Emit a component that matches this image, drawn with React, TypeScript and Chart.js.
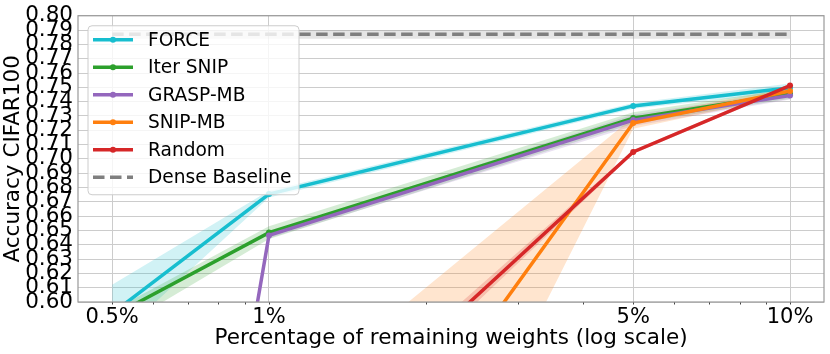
import React, { useEffect, useRef } from "react";
import { Chart, registerables } from "chart.js";

Chart.register(...registerables);

// ---------------- data ----------------
const xValues = [0.5, 1, 5, 10];
const xTickValues = [0.5, 1, 5, 10];
const xTickLabels = ["0.5%", "1%", "5%", "10%"];
const xMinorTicks = [0.6, 0.7, 0.8, 0.9, 2, 3, 4, 6, 7, 8, 9];
const yTickValues = [
  0.6, 0.61, 0.62, 0.63, 0.64, 0.65, 0.66, 0.67, 0.68, 0.69, 0.7,
  0.71, 0.72, 0.73, 0.74, 0.75, 0.76, 0.77, 0.78, 0.79, 0.8,
];
const yTickLabels = [
  "0.60", "0.61", "0.62", "0.63", "0.64", "0.65", "0.66", "0.67", "0.68", "0.69", "0.70",
  "0.71", "0.72", "0.73", "0.74", "0.75", "0.76", "0.77", "0.78", "0.79", "0.80",
];

const seriesNames = ["FORCE", "Iter SNIP", "GRASP-MB", "SNIP-MB", "Random", "Dense Baseline"];

const forceMean = [0.592, 0.6754, 0.737, 0.7497];
const forceUpper = [0.612, 0.6778, 0.739, 0.7527];
const forceLower = [0.572, 0.673, 0.735, 0.7467];

const iterSnipMean = [0.59, 0.6485, 0.7285, 0.7455];
const iterSnipUpper = [0.594, 0.653, 0.7325, 0.749];
const iterSnipLower = [0.579, 0.644, 0.7245, 0.742];

const graspMean = [0.01, 0.6465, 0.7271, 0.7443];
const graspUpper = [0.015, 0.6485, 0.731, 0.747];
const graspLower = [0.005, 0.6445, 0.723, 0.7415];

const snipMean = [null, 0.372, 0.725, 0.7474];
const snipUpper = [null, 0.52, 0.729, 0.7495];
const snipLower = [null, 0.215, 0.721, 0.7445];

const randomMean = [null, 0.471, 0.7048, 0.7512];
const randomUpper = [null, 0.481, 0.706, 0.7525];
const randomLower = [null, 0.462, 0.7035, 0.7498];

const denseMean = [0.787, 0.787, 0.787, 0.787];
const denseUpper = [0.79, 0.79, 0.79, 0.79];
const denseLower = [0.784, 0.784, 0.784, 0.784];

const colors = ["#17becf", "#2ca02c", "#9467bd", "#ff7f0e", "#d62728", "#7f7f7f"];
const bandColors = [
  "rgba(23,190,207,0.2)",
  "rgba(44,160,44,0.2)",
  "rgba(148,103,189,0.2)",
  "rgba(255,127,14,0.2)",
  "rgba(214,39,40,0.2)",
  "rgba(127,127,127,0.2)",
];

const means = [forceMean, iterSnipMean, graspMean, snipMean, randomMean, denseMean];
const uppers = [forceUpper, iterSnipUpper, graspUpper, snipUpper, randomUpper, denseUpper];
const lowers = [forceLower, iterSnipLower, graspLower, snipLower, randomLower, denseLower];

const FONT = '"DejaVu Sans", "Liberation Sans", sans-serif';

function toPoints(vals: (number | null)[]) {
  return xValues.map((x, i) => ({ x, y: vals[i] }));
}

function buildDatasets() {
  const ds: any[] = [];
  let seq = 0;
  // bands first (bottom)
  for (let s = 0; s < seriesNames.length; s++) {
    ds.push({
      type: "line",
      label: seriesNames[s] + " upper",
      data: toPoints(uppers[s]),
      borderWidth: 0,
      borderColor: "rgba(0,0,0,0)",
      backgroundColor: bandColors[s],
      pointRadius: 0,
      fill: "+1",
      clip: 0,
      order: 1000 - seq++,
    });
    ds.push({
      type: "line",
      label: seriesNames[s] + " lower",
      data: toPoints(lowers[s]),
      borderWidth: 0,
      borderColor: "rgba(0,0,0,0)",
      pointRadius: 0,
      fill: false,
      clip: 0,
      order: 1000 - seq++,
    });
  }
  // lines
  for (let s = 0; s < seriesNames.length; s++) {
    const dense = s === 5;
    ds.push({
      type: "line",
      label: seriesNames[s],
      data: toPoints(means[s]),
      borderColor: colors[s],
      backgroundColor: colors[s],
      borderWidth: 3.5,
      borderDash: dense ? [11.5, 5.5] : [],
      pointRadius: dense ? 0 : 3,
      pointBorderWidth: 0,
      pointBackgroundColor: colors[s],
      fill: false,
      clip: 0,
      order: 1000 - seq++,
    });
  }
  return ds;
}

const framePlugin = {
  id: "frame",
  afterDatasetsDraw(chart: any) {
    const { ctx, chartArea } = chart;
    const { left, top, right, bottom } = chartArea;
    const x = chart.scales.x;
    ctx.save();
    ctx.strokeStyle = "#444";
    ctx.lineWidth = 1;
    ctx.beginPath();
    [...xMinorTicks, ...xTickValues].forEach((v) => {
      const px = Math.round(x.getPixelForValue(v)) + 0.5;
      ctx.moveTo(px, bottom);
      ctx.lineTo(px, bottom + 2.5);
    });
    ctx.stroke();
    ctx.strokeStyle = "#999";
    ctx.lineWidth = 1.2;
    ctx.strokeRect(left, top, right - left, bottom - top);
    ctx.restore();
  },
};

const legendPlugin = {
  id: "customLegend",
  afterDraw(chart: any) {
    const { ctx, chartArea } = chart;
    const bx = chartArea.left + 10;
    const by = chartArea.top + 10;
    const bw = 211;
    const bh = 169;
    ctx.save();
    ctx.beginPath();
    ctx.roundRect(bx, by, bw, bh, 4);
    ctx.fillStyle = "rgba(255,255,255,0.8)";
    ctx.fill();
    ctx.strokeStyle = "#cccccc";
    ctx.lineWidth = 1;
    ctx.stroke();
    ctx.font = `18.6px ${FONT}`;
    ctx.textBaseline = "middle";
    ctx.textAlign = "left";
    seriesNames.forEach((name, i) => {
      const cy = by + 14 + i * 27.5;
      const x0 = bx + 5;
      const x1 = bx + 45;
      ctx.beginPath();
      ctx.strokeStyle = colors[i];
      ctx.lineWidth = 3.5;
      ctx.setLineDash(i === 5 ? [11.5, 5.5] : []);
      ctx.moveTo(x0, cy);
      ctx.lineTo(x1, cy);
      ctx.stroke();
      ctx.setLineDash([]);
      if (i !== 5) {
        ctx.beginPath();
        ctx.fillStyle = colors[i];
        ctx.arc((x0 + x1) / 2, cy, 3, 0, Math.PI * 2);
        ctx.fill();
      }
      ctx.fillStyle = "#000";
      ctx.fillText(name, bx + 60, cy + 1);
    });
    ctx.restore();
  },
};

export default function App() {
  const ref = useRef<HTMLCanvasElement>(null);
  useEffect(() => {
    document.body.style.margin = "0";
    const chart = new Chart(ref.current as HTMLCanvasElement, {
      type: "line",
      data: { datasets: buildDatasets() },
      options: {
        animation: false,
        responsive: false,
        devicePixelRatio: 1,
        layout: { padding: { top: 12, right: 6, left: 0, bottom: 0 } },
        plugins: { legend: { display: false }, tooltip: { enabled: false } },
        scales: {
          x: {
            type: "logarithmic",
            min: 0.43,
            max: 11.62,
            afterBuildTicks: (scale: any) => {
              scale.ticks = xTickValues.map((v) => ({ value: v, major: true }));
            },
            afterFit: (scale: any) => {
              scale.height = 52;
            },
            ticks: {
              autoSkip: false,
              maxRotation: 0,
              padding: 3,
              color: "#000",
              font: { family: FONT, size: 21 },
              callback: (_v: any, i: number) => xTickLabels[i],
            },
            grid: { color: "#cccccc", lineWidth: 1, drawTicks: false },
            border: { display: false },
            title: {
              display: true,
              text: "Percentage of remaining weights (log scale)",
              color: "#000",
              font: { family: FONT, size: 21.5 },
              padding: { top: 4, bottom: 3 },
            },
          },
          y: {
            type: "linear",
            min: 0.6,
            max: 0.8,
            afterBuildTicks: (scale: any) => {
              scale.ticks = yTickValues.map((v) => ({ value: v }));
            },
            afterFit: (scale: any) => {
              scale.width = 78;
            },
            ticks: {
              autoSkip: false,
              padding: 5,
              color: "#000",
              font: { family: FONT, size: 21.5, lineHeight: 1 },
              callback: (_v: any, i: number) => yTickLabels[i],
            },
            grid: { color: "#cccccc", lineWidth: 1, drawTicks: false },
            border: { display: false },
            title: {
              display: true,
              text: "Accuracy CIFAR100",
              color: "#000",
              font: { family: FONT, size: 21.5 },
              padding: { top: 1, bottom: 0 },
            },
          },
        },
      },
      plugins: [framePlugin, legendPlugin],
    } as any);
    return () => chart.destroy();
  }, []);
  return (
    <div style={{ width: 830, height: 354 }}>
      <canvas ref={ref} width={830} height={354} style={{ display: "block" }} />
    </div>
  );
}
